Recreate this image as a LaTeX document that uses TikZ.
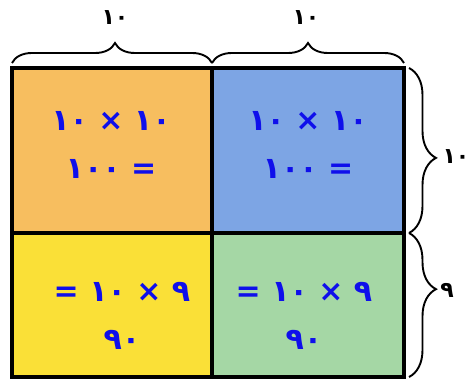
\documentclass[tikz,border=0pt]{standalone}
\usepackage{fontspec}
\usetikzlibrary{decorations.pathreplacing}
\TeXXeTstate=1
\newfontfamily\arabicfont[Script=Arabic]{DejaVu Sans}
\definecolor{cellorange}{RGB}{247,190,95}
\definecolor{cellblue}{RGB}{125,165,228}
\definecolor{cellyellow}{RGB}{250,224,55}
\definecolor{cellgreen}{RGB}{165,215,165}
\definecolor{digitblue}{RGB}{15,15,235}

\begin{document}
\begin{tikzpicture}[
    x=1pt, y=-1pt,
    cell/.style n args={3}{rectangle, draw=black, fill=#1, line width=3.5pt,
                     minimum width=#2pt, minimum height=#3pt, inner sep=0pt,
                     outer sep=0pt, anchor=north west},
    product/.style={text=digitblue, align=center,
                    font=\arabicfont\bfseries\fontsize{30}{48}\selectfont},
    sidelabel/.style={font=\arabicfont\bfseries\fontsize{22}{24}\selectfont},
    curly/.style={decorate, decoration={brace, amplitude=#1}, line width=1.9pt},
    tipat/.style={decoration={aspect=#1}}
]
    \useasboundingbox (0,0) rectangle (469,379);

    % the four parts of the square
    \node[cell={cellorange}{200}{165}] (tl) at (12,68) {};
    \node[cell={cellblue}{192}{165}] (tr) at (212,68) {};
    \node[cell={cellyellow}{200}{144}] (bl) at (12,233) {};
    \node[cell={cellgreen}{192}{144}] (br) at (212,233) {};

    % products
    \node[product] (tltext) at (111,145) {\beginR ١٠ × ١٠\endR\\\beginR = ١٠٠\endR};
    \node[product] (trtext) at (308,145) {\beginR ١٠ × ١٠\endR\\\beginR = ١٠٠\endR};
    \node[product] (bltext) at (122,316) {\beginR ٩ × ١٠ =\endR\\٩٠};
    \node[product] (brtext) at (304,316) {\beginR ٩ × ١٠ =\endR\\٩٠};

    % braces
    \draw[curly=20pt, tipat=0.515] ([yshift=5pt]tl.north west) -- ([yshift=5pt]tl.north east);
    \draw[curly=20pt, tipat=0.5] ([yshift=5pt]tr.north west) -- ([yshift=5pt]tr.north east);
    \draw[curly=27pt, tipat=0.545] ([xshift=5pt]tr.north east) -- ([xshift=5pt]tr.south east);
    \draw[curly=27pt, tipat=0.39] ([xshift=5pt]br.north east) -- ([xshift=5pt]br.south east);

    % lengths
    \node[sidelabel] (toplen1) at (115,18) {١٠};
    \node[sidelabel] (toplen2) at (306,18) {١٠};
    \node[sidelabel] (sidelen1) at (456,157) {١٠};
    \node[sidelabel] (sidelen2) at (447,290) {٩};
\end{tikzpicture}
\end{document}
